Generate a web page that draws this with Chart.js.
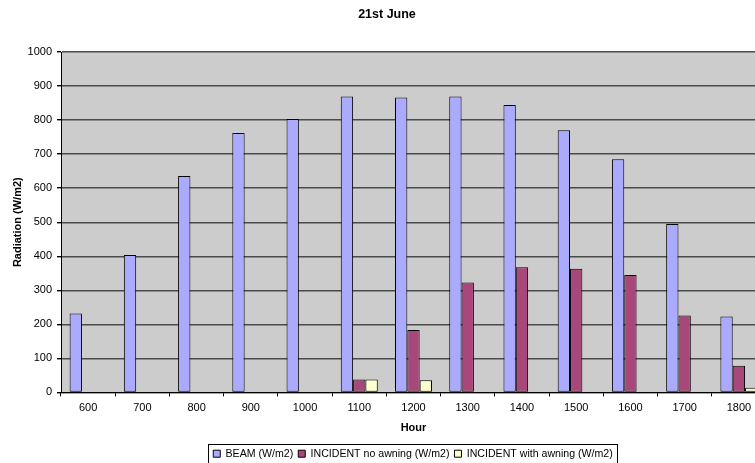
<!DOCTYPE html>
<html lang="en">
<head>
    <meta charset="UTF-8">
    <title>21st June</title>
    <script src="https://cdn.jsdelivr.net/npm/chart.js"></script>
    <style>
        html, body {
            margin: 0;
            padding: 0;
            background: #fff;
            overflow: hidden;
        }
        .wrap {
            position: relative;
            width: 755px;
            height: 463px;
            overflow: hidden;
            font-family: 'Liberation Sans', Arial, sans-serif;
        }
        .chart-title {
            position: absolute;
            top: 7px;
            left: 0;
            width: 774px;
            text-align: center;
            font-weight: bold;
            font-size: 12.5px;
            z-index: 2;
        }
        .canvas-box {
            position: absolute;
            left: 0;
            top: 0;
            width: 826px;
            height: 463px;
        }
    </style>
</head>
<body>
    <div class="wrap">
        <div class="chart-title">21st June</div>
        <div class="canvas-box"><canvas id="chart"></canvas></div>
    </div>
    <script>
        const hours = ['600', '700', '800', '900', '1000', '1100', '1200', '1300', '1400', '1500', '1600', '1700', '1800'];
        const beam = [232, 404, 636, 762, 803, 869, 866, 869, 844, 770, 685, 495, 223];
        const incidentNoAwning = [null, null, null, null, null, 38, 183, 323, 368, 363, 345, 226, 78];
        const incidentWithAwning = [null, null, null, null, null, 38, 36, null, null, null, null, null, 14];
        const yTicks = { min: 0, max: 1000, step: 100 };

        const font = { family: "'Liberation Sans', Arial, sans-serif", size: 11 };

        // grey plot area like the excel default
        const plotBg = {
            id: 'plotBg',
            beforeDraw(chart) {
                const a = chart.chartArea;
                const ctx = chart.ctx;
                ctx.save();
                ctx.fillStyle = '#cccccc';
                ctx.fillRect(a.left, a.top, a.right - a.left, a.bottom - a.top);
                ctx.restore();
            }
        };

        // box round the legend
        const legendBox = {
            id: 'legendBox',
            afterDraw(chart) {
                const boxes = chart.legend && chart.legend.legendHitBoxes;
                if (!boxes || !boxes.length) return;
                const first = boxes[0], last = boxes[boxes.length - 1];
                const x1 = Math.round(first.left - 5) + 0.5;
                const x2 = Math.round(last.left + last.width + 4) + 0.5;
                const y1 = Math.round(first.top - 4) + 0.5;
                const y2 = Math.round(first.top + first.height + 4) + 0.5;
                const ctx = chart.ctx;
                ctx.save();
                ctx.strokeStyle = '#000';
                ctx.lineWidth = 1;
                ctx.strokeRect(x1, y1, x2 - x1, y2 - y1);
                ctx.restore();
            }
        };

        const barOpts = { borderColor: '#000', borderWidth: 1, borderSkipped: false, barPercentage: 1, categoryPercentage: 0.682 };

        new Chart(document.getElementById('chart'), {
            type: 'bar',
            data: {
                labels: hours,
                datasets: [
                    Object.assign({ label: 'BEAM (W/m2)', data: beam, backgroundColor: '#aaaaff' }, barOpts),
                    Object.assign({ label: 'INCIDENT no awning (W/m2)', data: incidentNoAwning, backgroundColor: '#a8487a' }, barOpts),
                    Object.assign({ label: 'INCIDENT with awning (W/m2)', data: incidentWithAwning, backgroundColor: '#ffffcc' }, barOpts)
                ]
            },
            options: {
                responsive: true,
                maintainAspectRatio: false,
                animation: false,
                layout: { padding: { top: 52, left: 0, right: 0, bottom: -6 } },
                plugins: {
                    title: { display: false },
                    tooltip: { enabled: false },
                    legend: {
                        position: 'bottom',
                        labels: { font: Object.assign({}, font, { size: 10.6 }), color: '#000', boxWidth: 7, boxHeight: 7, padding: 5 }
                    }
                },
                scales: {
                    x: {
                        grid: { drawOnChartArea: false, drawTicks: true, tickLength: 4, color: '#000' },
                        border: { display: true, color: '#000' },
                        ticks: { font: font, color: '#000', padding: 5, maxRotation: 0, autoSkip: false },
                        title: { display: true, text: 'Hour', color: '#000', font: Object.assign({}, font, { weight: 'bold' }), padding: { top: 0, bottom: 9 } },
                        afterFit(s) { s.height = 51; }
                    },
                    y: {
                        min: yTicks.min,
                        max: yTicks.max,
                        grid: { color: '#4a4a4a', lineWidth: 1.4, tickLength: 4, tickColor: '#000' },
                        border: { display: true, color: '#000' },
                        ticks: { stepSize: yTicks.step, font: font, color: '#000', padding: 5, callback: v => String(v) },
                        title: { display: true, text: 'Radiation (W/m2)', color: '#000', font: Object.assign({}, font, { weight: 'bold' }), padding: { top: 11, bottom: 0 } },
                        afterFit(s) { s.width = 61; }
                    },
                    y2: {
                        position: 'right',
                        display: true,
                        grid: { display: false, drawOnChartArea: false },
                        border: { display: false },
                        ticks: { display: false },
                        afterFit(s) { s.width = 60; }
                    }
                }
            },
            plugins: [plotBg, legendBox]
        });
    </script>
</body>
</html>
